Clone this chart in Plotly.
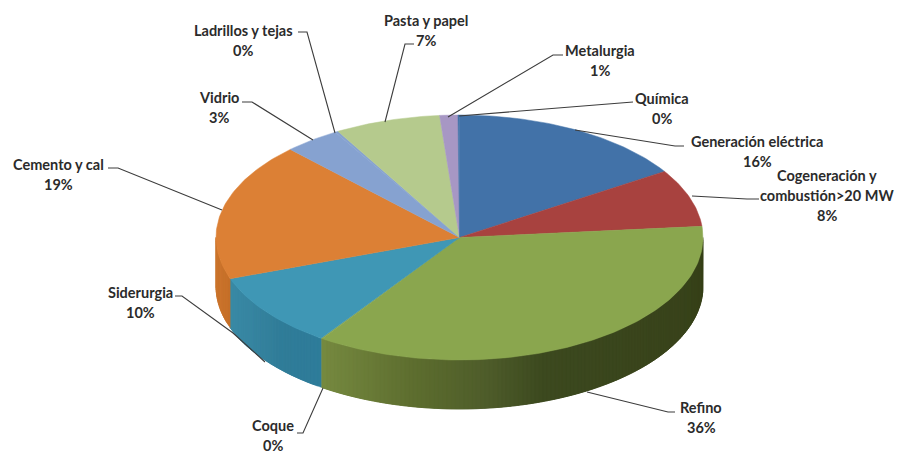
import math
import plotly.graph_objects as go

# Data: order is clockwise from 12 o'clock
sectors = ["Generación eléctrica", "Cogeneración y combustión>20 MW", "Refino", "Coque", "Siderurgia",
           "Cemento y cal", "Vidrio", "Ladrillos y tejas", "Pasta y papel", "Metalurgia", "Química"]
shares = [15.9, 7.6, 35.9, 0.1, 9.9, 18.2, 3.7, 0.2, 7.0, 1.2, 0.1]
percent_labels = [16, 8, 36, 0, 10, 19, 3, 0, 7, 1, 0]
top_colors = ["#4272a8", "#a8423f", "#8aa64e", "#8aa64e", "#3f97b5", "#dc8035", "#86a2d0", "#86a2d0",
              "#b5ca8d", "#a797c4", "#4272a8"]
# Side wall shading: colour stops by horizontal page position
side_stops = {
    2: [(322, (118, 138, 64)), (420, (92, 108, 46)), (490, (78, 92, 42)), (545, (60, 73, 31)), (703, (56, 66, 26))],
    3: [(322, (118, 138, 64)), (326, (118, 138, 64))],
    4: [(232, (58, 138, 165)), (285, (48, 124, 152)), (323, (46, 124, 154))],
    5: [(216, (204, 118, 46)), (233, (196, 110, 40))],
}

# Layout of the drawing (pixels of the page)
CX, CY, RX, RY, DEPTH = 459.5, 237.5, 243.5, 122.5, 49
WIDTH, HEIGHT = 902, 454
STEP = 1.0
OVERLAP = 2.0

label_lines = [["Generación eléctrica"], ["Cogeneración y", "combustión>20 MW"], ["Refino"], ["Coque"], ["Siderurgia"],
               ["Cemento y cal"], ["Vidrio"], ["Ladrillos y tejas"], ["Pasta y papel"], ["Metalurgia"], ["Química"]]
label_x = [757, 827, 701, 273, 140, 58, 219, 243, 426, 600, 662]
label_y = [141, 175, 407, 425, 292, 164, 97, 30, 20, 50, 98]
LINE_GAP = 20.3
leaders = [
    [(684, 146), (675, 146), (575, 130)],
    [(759, 199), (747, 199), (692, 196)],
    [(675, 412), (668, 412), (587, 392)],
    [(297, 433), (303, 433), (323, 388)],
    [(175, 296), (182, 296), (233, 333), (265, 362)],
    [(108, 168), (118, 168), (222, 210)],
    [(242, 102), (252, 102), (313, 140)],
    [(298, 32), (307, 32), (335, 133)],
    [(414, 44), (405, 44), (385, 122)],
    [(563, 55), (553, 55), (448, 117)],
    [(633, 102), (459, 116)],
]


def rim(deg, drop=0.0):
    a = math.radians(deg)
    return CX + RX * math.sin(a), CY - RY * math.cos(a) + drop


def frange(a, b, step):
    out = [a]
    while out[-1] + step < b:
        out.append(out[-1] + step)
    out.append(b)
    return out


def shade(stops, x):
    if x <= stops[0][0]:
        return stops[0][1]
    for (x0, c0), (x1, c1) in zip(stops[:-1], stops[1:]):
        if x <= x1:
            t = (x - x0) / (x1 - x0)
            return tuple(round(c0[k] + (c1[k] - c0[k]) * t) for k in range(3))
    return stops[-1][1]


fig = go.Figure()
total = sum(shares)
bounds = [0.0]
for s in shares:
    bounds.append(bounds[-1] + s / total * 360.0)

# Visible outer wall: overlapping thin strips so the shading can vary without seams.
for i, (lo, hi) in enumerate(zip(bounds[:-1], bounds[1:])):
    a, b = max(lo, 90.0), min(hi, 270.0)
    if i not in side_stops or a >= b:
        continue
    angles = frange(a, b, STEP)
    for d0, d1 in zip(angles[:-1], angles[1:]):
        end = min(d1 + OVERLAP, b)
        col = "rgb(%d,%d,%d)" % shade(side_stops[i], rim(d0)[0])
        arc = frange(d0, end, 0.5)
        pts = [rim(d) for d in arc] + [rim(d, DEPTH) for d in reversed(arc)] + [rim(d0)]
        xs, ys = zip(*pts)
        fig.add_trace(go.Scatter(x=xs, y=ys, mode="lines", fill="toself", fillcolor=col,
                                 line=dict(color=col, width=0.4), hoverinfo="skip", showlegend=False))

# Top face
for i, (lo, hi) in enumerate(zip(bounds[:-1], bounds[1:])):
    pts = [(CX, CY)] + [rim(d) for d in frange(lo, hi, STEP)] + [(CX, CY)]
    xs, ys = zip(*pts)
    fig.add_trace(go.Scatter(x=xs, y=ys, mode="lines", fill="toself", fillcolor=top_colors[i],
                             line=dict(color=top_colors[i], width=0.5), name=sectors[i],
                             text=["%s: %d%%" % (sectors[i], percent_labels[i])] * len(xs),
                             hoverinfo="text", showlegend=False))

shapes = []
for path in leaders:
    d = "M " + " L ".join("%g %g" % p for p in path)
    shapes.append(dict(type="path", path=d, xref="x", yref="y", line=dict(color="#3c3c3c", width=1.1)))

annotations = []
for lines, px, py, pct in zip(label_lines, label_x, label_y, percent_labels):
    rows = lines + ["%d%%" % pct]
    for k, row in enumerate(rows):
        annotations.append(dict(x=px, y=py + k * LINE_GAP, xref="x", yref="y", text="<b>%s</b>" % row,
                                showarrow=False, xanchor="center", yanchor="middle",
                                font=dict(family="Lato", size=14.5, color="#2b2b2b")))

fig.update_layout(
    width=WIDTH, height=HEIGHT, margin=dict(l=0, r=0, t=0, b=0),
    paper_bgcolor="white", plot_bgcolor="white", shapes=shapes, annotations=annotations,
    xaxis=dict(range=[0, WIDTH], visible=False, fixedrange=True),
    yaxis=dict(range=[HEIGHT, 0], visible=False, fixedrange=True),
)
fig.write_html("out.html", config=dict(displayModeBar=False),
               post_script="document.body.style.margin='0';document.body.style.overflow='hidden';")
